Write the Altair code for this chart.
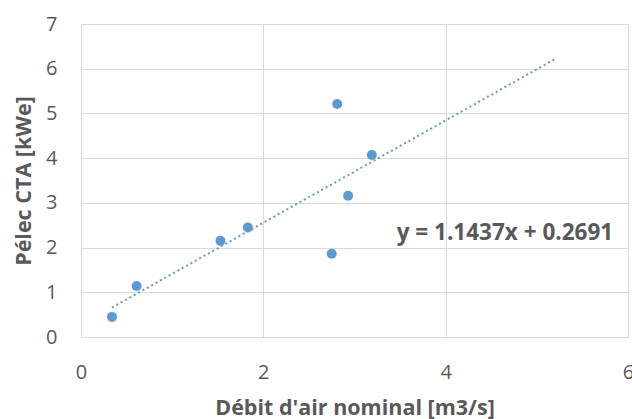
import altair as alt
import pandas as pd

# Data
debit = [0.34, 0.61, 1.53, 1.83, 2.75, 2.81, 2.93, 3.19]
pelec = [0.45, 1.14, 2.15, 2.45, 1.86, 5.21, 3.16, 4.07]

# Linear trend line given in the chart
slope = 1.1437
intercept = 0.2691
trend_x = [0.34, 5.2]
trend_y = [slope * v + intercept for v in trend_x]

eq_label = ["y = 1.1437x + 0.2691"]
eq_x = [4.65]
eq_y = [2.32]

x_ticks = [0, 2, 4, 6]
y_ticks = [0, 1, 2, 3, 4, 5, 6, 7]

pts = pd.DataFrame({"x": debit, "y": pelec})
trend = pd.DataFrame({"x": trend_x, "y": trend_y})
eq = pd.DataFrame({"label": eq_label, "x": eq_x, "y": eq_y})

FONT = "Open Sans"
GRAY = "#595959"
GRID = "#D9D9D9"
BLUE = "#5B9BD5"

xscale = alt.Scale(domain=[0, 6], nice=False, zero=False)
yscale = alt.Scale(domain=[0, 7], nice=False, zero=False)

xaxis = alt.Axis(
    values=x_ticks, format="d", title="Débit d'air nominal [m3/s]", grid=True,
    gridColor=GRID, domainColor=GRID, ticks=False, labelPadding=35,
    labelBaseline="middle", labelFontSize=20, labelColor=GRAY, labelFont=FONT,
    titleFontSize=21.5, titleFont=FONT, titleColor=GRAY, titleFontWeight="bold",
    titleY=71, titleBaseline="middle", labelFlush=False, labelOverlap=False,
)
yaxis = alt.Axis(
    values=y_ticks, format="d", title="Pélec CTA [kWe]", grid=True,
    gridColor=GRID, domainColor=GRID, ticks=False, labelPadding=24,
    labelFontSize=20, labelColor=GRAY, labelFont=FONT,
    titleFontSize=21.5, titleFont=FONT, titleColor=GRAY, titleFontWeight="bold",
    titleX=-57, titleBaseline="middle", labelFlush=False, labelOverlap=False,
)

base_pts = alt.Chart(pts).mark_circle(size=100, color=BLUE, opacity=1).encode(
    x=alt.X("x:Q", scale=xscale, axis=xaxis),
    y=alt.Y("y:Q", scale=yscale, axis=yaxis),
)

line = alt.Chart(trend).mark_line(
    color=BLUE, strokeWidth=2, strokeDash=[2, 3]
).encode(
    x=alt.X("x:Q", scale=xscale),
    y=alt.Y("y:Q", scale=yscale),
)

text = alt.Chart(eq).mark_text(
    font=FONT, fontSize=22.5, fontWeight="bold", color=GRAY, align="center",
    baseline="middle",
).encode(
    x=alt.X("x:Q", scale=xscale),
    y=alt.Y("y:Q", scale=yscale),
    text="label:N",
)

chart = alt.layer(line, base_pts, text).properties(
    width=547, height=313,
    autosize=alt.AutoSizeParams(type="none"),
    padding={"left": 81, "top": 24, "right": 4, "bottom": 82},
    background="white",
).configure_view(stroke=None)

chart.save("out.html", embed_options={"renderer": "svg", "actions": False})
